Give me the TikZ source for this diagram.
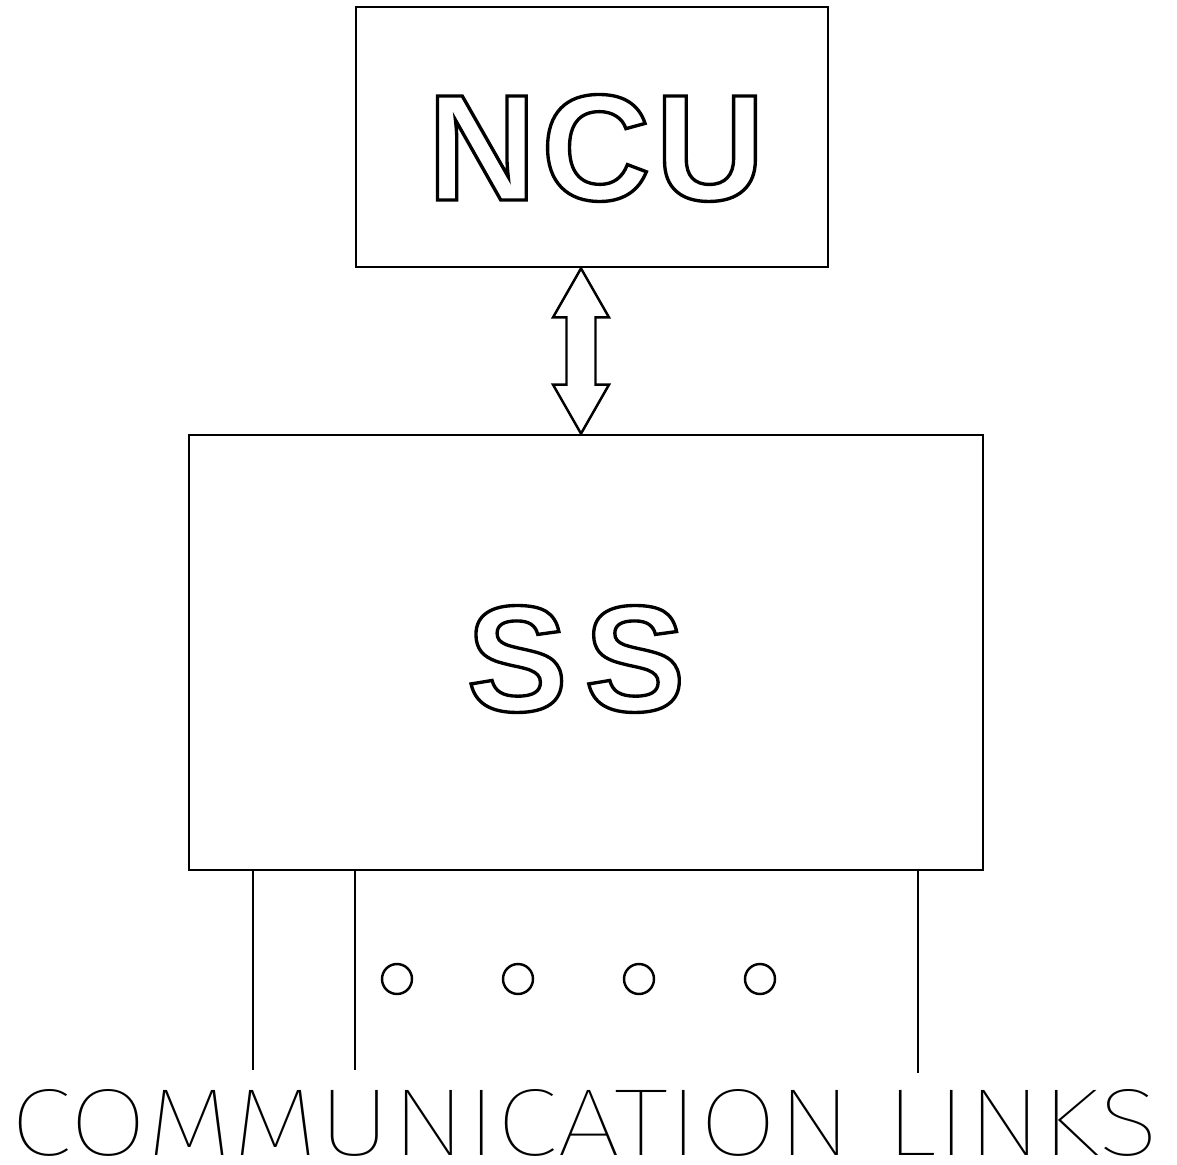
\documentclass[tikz,border=0pt]{standalone}
\usepackage{graphicx}
\usepackage{fontspec}
\usetikzlibrary{calc}
\newfontfamily\arialb{Liberation Sans}
\IfFontExistsTF{Fira Sans Thin}{\newfontfamily\thinfont{Fira Sans Thin}}{%
 \IfFontExistsTF{Fira Sans ExtraLight}{\newfontfamily\thinfont{Fira Sans ExtraLight}}{%
  \IfFontExistsTF{Fira Sans Light}{\newfontfamily\thinfont{Fira Sans Light}}{\newfontfamily\thinfont{Fira Sans}}}}
\newcommand\outlinetext[1]{\special{pdf:literal direct 1 Tr 1.9 w}#1\special{pdf:literal direct 0 Tr}}
\tikzset{
  boxnode/.style={draw, line width=1.6pt, inner sep=0pt, rectangle},
  biglabel/.style={inner sep=0pt, anchor=base, font=\arialb\bfseries\fontsize{86pt}{86pt}\selectfont},
  linkline/.style={line width=1.3pt},
  dotnode/.style={draw, circle, line width=1.4pt, minimum size=0.6cm, inner sep=0pt},
  blockarrow/.style={line width=1.4pt, line join=miter}
}
\begin{document}
\begin{tikzpicture}[x=0.02cm, y=-0.02cm]
\useasboundingbox (0,0) rectangle (1177,1164);
% boxes
\node[boxnode, minimum width=9.44cm, minimum height=5.2cm] (ncu) at (592,137) {};
\node[boxnode, minimum width=15.88cm, minimum height=8.7cm] (ss) at (586,652.5) {};
% labels
\node[biglabel] (ncul) at (596,200) {\outlinetext{N\hspace{0.1cm}C\hspace{0.1cm}U}};
\node[biglabel] (ssl) at (576,711) {\outlinetext{S\hspace{0.34cm}S}};
% double block arrow
\coordinate (a1) at (581,0 |- ncu.south);
\coordinate (a2) at (581,0 |- ss.north);
\draw[blockarrow] (a1) -- ++(28,49) -- ++(-13.5,0) -- ($(a2)+(14.5,-49)$) -- ++(13.5,0)
  -- (a2) -- ++(-28,-49) -- ++(13.5,0) -- ($(a1)+(-14.5,49)$) -- ++(-13.5,0) -- cycle;
% communication links
\coordinate (e1) at (253,1070);
\coordinate (e2) at (355,1070);
\coordinate (e3) at (918,1073);
\draw[linkline] (ss.south -| e1) -- (e1);
\draw[linkline] (ss.south -| e2) -- (e2);
\draw[linkline, line width=1.6pt] (ss.south -| e3) -- (e3);
\node[dotnode] (d1) at (397,979) {};
\node[dotnode] (d2) at (518,979) {};
\node[dotnode] (d3) at (639,979) {};
\node[dotnode] (d4) at (760,979) {};
\node[anchor=base west, inner sep=0pt] (cl) at (10,1155) {\resizebox{22.98cm}{1.32cm}{\thinfont COMMUNICATION LINKS}};
\end{tikzpicture}
\end{document}
